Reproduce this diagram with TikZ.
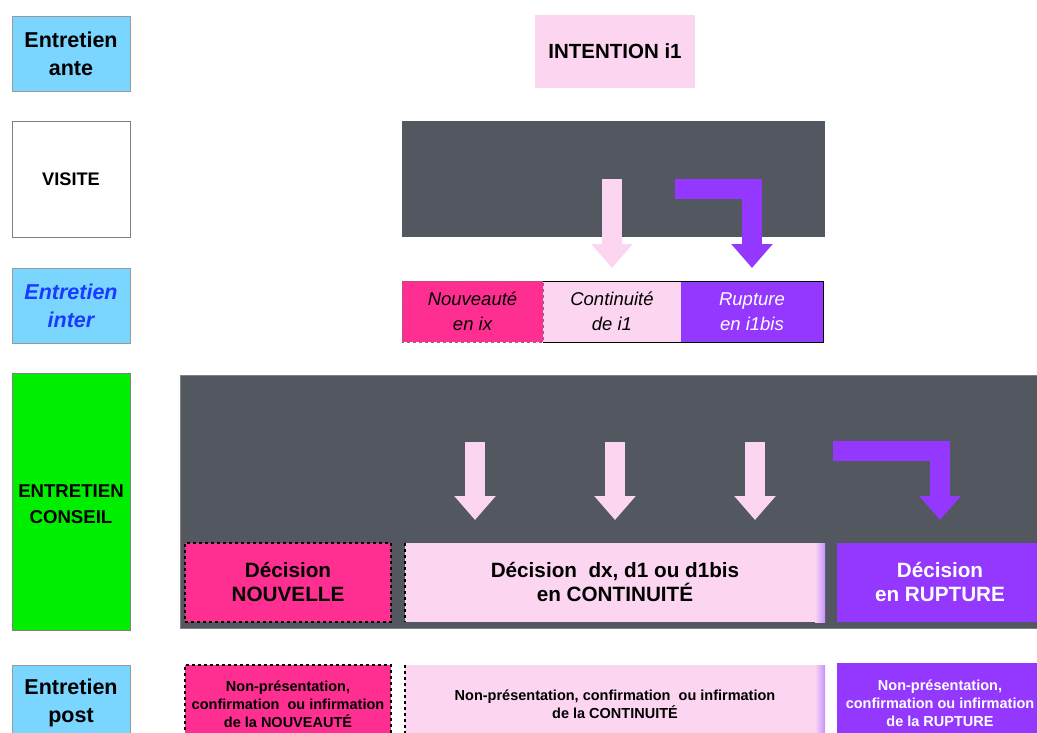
\documentclass[tikz,border=0pt]{standalone}
\usepackage{fontspec}
\setmainfont{Liberation Sans}
\usetikzlibrary{arrows.meta,positioning,calc}
\definecolor{cCiel}{HTML}{7AD5FF}
\definecolor{cVert}{HTML}{00EE00}
\definecolor{cSombre}{HTML}{53575F}
\definecolor{cRose}{HTML}{FCD6F1}
\definecolor{cMag}{HTML}{FF2F92}
\definecolor{cVio}{HTML}{9437FF}
\definecolor{cBleu}{HTML}{1A3BFF}

\begin{document}
\begin{tikzpicture}[x=1pt,y=-1pt,
  every node/.style={inner sep=0pt,outer sep=0pt,align=center},
  phase/.style={draw=gray!80,fill=cCiel,minimum width=118pt,font=\bfseries\fontsize{21.5}{28}\selectfont},
  choix/.style={minimum width=140pt,minimum height=61pt,font=\itshape\fontsize{18.5}{25}\selectfont},
  decision/.style={minimum width=206pt,minimum height=79pt,font=\bfseries\fontsize{20.7}{24}\selectfont},
  suite/.style={minimum width=206pt,minimum height=78pt,font=\bfseries\fontsize{14.5}{18}\selectfont},
  fleche/.style={line width=20pt,-{Triangle[length=24pt,width=40pt]}}]
\useasboundingbox (0,0) rectangle (1037,733);
\clip (0,0) rectangle (1037,733);

% colonne des phases
\node [phase,minimum height=75pt] (ante) at (71,53.5) {Entretien\\ante};
\node [phase,fill=white,draw=gray,minimum height=116pt,font=\bfseries\fontsize{18.2}{20}\selectfont] (visite) at (71,179) {VISITE};
\node [phase,minimum height=75pt,text=cBleu,font=\bfseries\itshape\fontsize{21.5}{28}\selectfont] (inter) at (71,305.5) {Entretien\\inter};
\node [phase,fill=cVert,draw=gray,minimum height=257pt,font=\bfseries\fontsize{18.6}{26}\selectfont] (conseil) at (71,501.5) {};
\node [font=\bfseries\fontsize{18.6}{26}\selectfont] (conseilTxt) at (71,504) {ENTRETIEN\\CONSEIL};
\node [phase,minimum height=76pt] (post) at (71,703) {Entretien\\post};

% intention et visite
\node [fill=cRose,minimum width=160pt,minimum height=73pt,font=\bfseries\fontsize{20.5}{22}\selectfont] (intention) at (615,51.5) {INTENTION i1};
\node [fill=cSombre,minimum width=423pt,minimum height=116pt] (zoneVisite) at (613.5,179) {};

% entretien inter
\node [choix,fill=cMag,minimum width=141pt] (nouv) at (472.5,311.5) {Nouveaut\'e\\en ix};
\node [choix,fill=cRose,minimum width=138pt] (cont) at (612,311.5) {Continuit\'e\\de i1};
\node [choix,fill=cVio,text=white,minimum width=142pt] (rupt) at (752,311.5) {Rupture\\en i1bis};
\draw (nouv.north east) -- (rupt.north east) -- (rupt.south east) -- (nouv.south east);
\draw [gray!90!black,dashed,line width=1pt] (nouv.north west) rectangle (nouv.south east);

\draw [fleche,cRose,shorten >=13pt] (cont.north |- zoneVisite) -- (cont.north);
\draw [fleche,cVio,shorten >=13pt] ($(zoneVisite)+(61.5,10)$) -| (rupt.north);

% entretien conseil
\node [fill=cSombre,draw=gray,minimum width=857pt,minimum height=253pt] (zoneConseil) at (608.5,501.5) {};
\node [decision,fill=cMag,draw=black,dashed,line width=1.2pt] (dNouv) at (288,582.5) {D\'ecision\\NOUVELLE};
\node [decision,fill=cRose,minimum width=420pt] (dCont) at (615,582.5) {D\'ecision\ \ dx, d1 ou d1bis\\en CONTINUIT\'E};
\node [decision,fill=cVio,text=white] (dRupt) at (940,582.5) {D\'ecision\\en RUPTURE};
\draw [dashed,line width=1.2pt] (dCont.north west) -- (dCont.south west);
\shade [left color=cRose,right color=cVio!55] ($(dCont.north east)+(-10,0)$) rectangle (dCont.south east);

\foreach \dx in {-140,0,140}
  \draw [fleche,cRose,shorten >=23pt] ($(dCont.north)+(\dx,-101)$) -- ($(dCont.north)+(\dx,0)$);
\draw [fleche,cVio,shorten >=23pt] ($(dRupt.north)+(-107,-92.5)$) -| (dRupt.north);

% entretien post
\node [suite,fill=cMag,draw=black,dashed,line width=1.2pt] (pNouv) at (288,704) {Non-pr\'esentation,\\confirmation\ \ ou infirmation\\de la NOUVEAUT\'E};
\node [suite,fill=cRose,minimum width=420pt] (pCont) at (615,704) {Non-pr\'esentation, confirmation\ \ ou infirmation\\de la CONTINUIT\'E};
\node [suite,fill=cVio,text=white,minimum height=80pt] (pRupt) at (940,703) {Non-pr\'esentation,\\confirmation ou infirmation\\de la RUPTURE};
\draw [dashed,line width=1.2pt] (pCont.north west) -- (pCont.south west);
\shade [left color=cRose,right color=cVio!55] ($(pCont.north east)+(-10,0)$) rectangle (pCont.south east);
\end{tikzpicture}
\end{document}
